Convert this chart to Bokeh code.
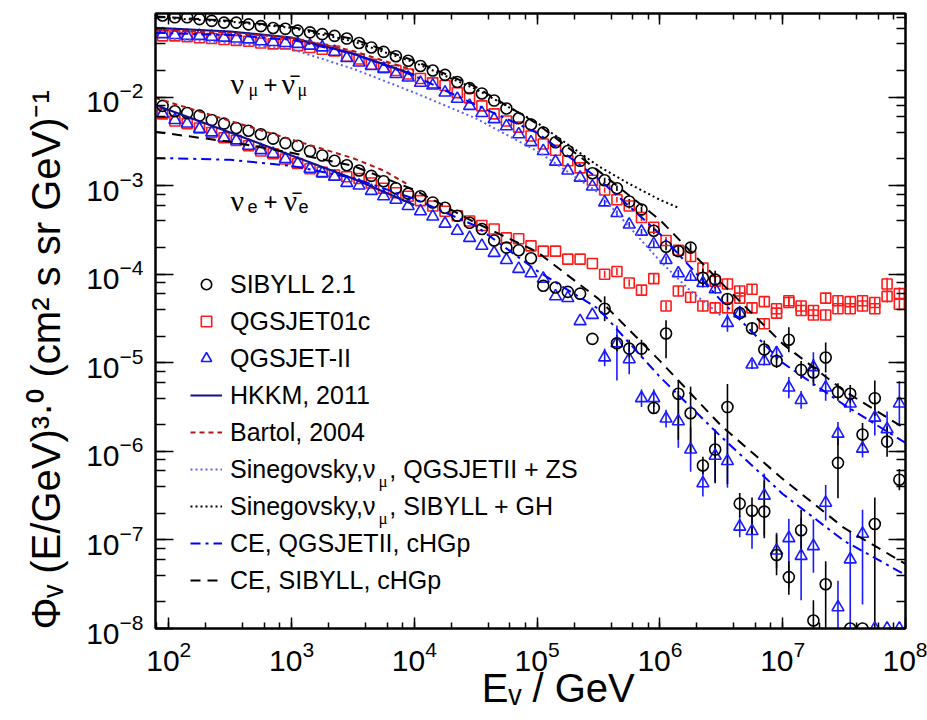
import math
from bokeh.plotting import figure
from bokeh.models import (LogAxis, LogTicker, Legend, LegendItem, Label, CustomJSTickFormatter)
from bokeh.embed import file_html
from bokeh.resources import INLINE

nan = float("nan")

# ---------------- data (log10 values) ----------------
# energy bin centres, log10(E / GeV)
log_e = [1.95, 2.05, 2.15, 2.25, 2.35, 2.45, 2.55, 2.65, 2.75, 2.85,
         2.95, 3.05, 3.15, 3.25, 3.35, 3.45, 3.55, 3.65, 3.75, 3.85,
         3.95, 4.05, 4.15, 4.25, 4.35, 4.45, 4.55, 4.65, 4.75, 4.85,
         4.95, 5.05, 5.15, 5.25, 5.35, 5.45, 5.55, 5.65, 5.75, 5.85,
         5.95, 6.05, 6.15, 6.25, 6.35, 6.45, 6.55, 6.65, 6.75, 6.85,
         6.95, 7.05, 7.15, 7.25, 7.35, 7.45, 7.55, 7.65, 7.75, 7.85, 7.95]

# log10 flux, nu_mu + nu_mu-bar
sibyll_mu = [-1.08, -1.10, -1.10, -1.12, -1.14, -1.16, -1.16, -1.18, -1.20, -1.22,
             -1.23, -1.25, -1.27, -1.29, -1.31, -1.34, -1.39, -1.44, -1.49, -1.54,
             -1.59, -1.65, -1.70, -1.75, -1.83, -1.90, -1.96, -2.04, -2.13, -2.24,
             -2.31, -2.40, -2.51, -2.61, -2.72, -2.86, -2.94, -3.03, -3.18, -3.27,
             -3.51, -3.69, -3.74, -3.70, -4.04, -4.06, -4.28, -4.44, -4.61, -4.85,
             -4.98, -4.74, -5.08, -5.11, -4.94, -5.33, -5.35, -5.81, -5.40, -5.89, -6.32]
qgs01_mu = [-1.31, -1.31, -1.32, -1.33, -1.34, -1.35, -1.36, -1.37, -1.39, -1.40,
            -1.40, -1.42, -1.44, -1.46, -1.48, -1.54, -1.57, -1.63, -1.67, -1.70,
            -1.74, -1.79, -1.84, -1.87, -1.95, -2.01, -2.10, -2.19, -2.27, -2.34,
            -2.44, -2.53, -2.60, -2.72, -2.80, -2.94, -3.05, -3.16, -3.23, -3.36,
            -3.47, -3.62, -3.73, -3.80, -3.93, -4.08, -4.11, -4.19, -4.17, -4.31,
            -4.39, -4.32, -4.41, -4.41, -4.27, -4.39, -4.31, -4.30, -4.39, -4.11, -4.22]
qgs2_mu = [-1.29, -1.30, -1.31, -1.31, -1.32, -1.33, -1.34, -1.35, -1.37, -1.38,
           -1.39, -1.40, -1.42, -1.44, -1.49, -1.56, -1.61, -1.65, -1.68, -1.74,
           -1.78, -1.84, -1.87, -1.95, -2.02, -2.10, -2.18, -2.25, -2.33, -2.42,
           -2.51, -2.61, -2.73, -2.83, -2.91, -3.01, -3.19, -3.31, -3.44, -3.52,
           -3.66, -3.84, -3.99, -4.03, -4.10, -4.17, -4.55, -4.44, -5.02, -4.98,
           -4.89, -5.28, -5.42, -5.05, -5.28, -5.80, -5.46, -5.97, -5.62, -5.75, -5.46]

# log10 flux, nu_e + nu_e-bar
sibyll_e = [-2.10, -2.16, -2.18, -2.21, -2.26, -2.30, -2.35, -2.38, -2.42, -2.47,
            -2.52, -2.55, -2.61, -2.66, -2.72, -2.77, -2.83, -2.89, -2.95, -3.03,
            -3.09, -3.12, -3.19, -3.25, -3.34, -3.42, -3.49, -3.62, -3.70, -3.73,
            -3.82, -4.13, -4.15, -4.20, -4.22, -4.73, -4.39, -4.78, -4.84, -4.84,
            -5.51, -4.67, -5.35, -5.57, -6.16, -5.98, -5.50, -6.59, -6.67, -6.68,
            -7.17, -7.42, -6.89, -7.91, -7.50, -6.13, -8.00, -8.00, -6.82, nan, nan]
qgs01_e = [-2.19, -2.27, -2.30, -2.35, -2.40, -2.46, -2.49, -2.55, -2.61, -2.64,
           -2.70, -2.75, -2.81, -2.85, -2.88, -2.90, -2.92, -2.97, -3.03, -3.08,
           -3.12, -3.17, -3.23, -3.29, -3.34, -3.40, -3.45, -3.49, -3.59, -3.60,
           -3.68, -3.74, -3.74, -3.83, -3.83, -3.88, -4.00, -3.97, -4.10, -4.18,
           -4.05, -4.36, -4.19, -4.26, -4.36, -4.38, -4.38, -4.27, -4.38, -4.56,
           -4.44, -4.30, -4.36, -4.46, -4.46, -4.30, -4.39, -4.36, -4.32, -4.25, -4.34]
qgs2_e = [-2.19, -2.26, -2.30, -2.36, -2.40, -2.46, -2.49, -2.55, -2.60, -2.64,
          -2.70, -2.75, -2.81, -2.86, -2.90, -2.97, -3.00, -3.06, -3.12, -3.16,
          -3.23, -3.29, -3.35, -3.43, -3.51, -3.59, -3.68, -3.76, -3.84, -3.94,
          -3.99, -4.05, -4.25, -4.27, -4.53, -4.46, -4.94, -4.78, -4.96, -5.40,
          -5.40, -5.63, -5.66, -5.98, -6.36, -6.05, -6.11, -6.85, -6.90, -6.50,
          -7.12, -6.98, -7.18, -7.07, -6.58, -7.76, -7.22, -6.93, -8.00, -8.00, -8.00]

# error bars (decades) for the last 25 bins (index 36 .. 60)
tail = 36
sibyll_mu_err = [0.03, 0.03, 0.03, 0.03, 0.04, 0.04, 0.05, 0.05, 0.10, 0.10, 0.06, 0.07, 0.07,
                 0.10, 0.08, 0.14, 0.10, 0.15, 0.17, 0.10, 0.10, 0.13, 0.20, 0.17, 0.12]
qgs01_mu_err = [0.03, 0.03, 0.03, 0.04, 0.04, 0.04, 0.05, 0.05, 0.05, 0.05, 0.06, 0.06, 0.06,
                0.06, 0.06, 0.06, 0.06, 0.06, 0.06, 0.06, 0.06, 0.06, 0.06, 0.07, 0.07]
qgs2_mu_err = [0.03, 0.03, 0.03, 0.03, 0.04, 0.04, 0.04, 0.04, 0.05, 0.05, 0.10, 0.06, 0.05,
               0.05, 0.08, 0.12, 0.10, 0.17, 0.15, 0.13, 0.10, 0.10, 0.20, 0.20, 0.25]
sibyll_e_up = [0.14, 0.09, 0.10, 0.10, 0.06, 0.15, 0.15, 0.30, 0.10, 0.20, 0.26, 0.12, 0.15,
               0.35, 0.23, 0.18, 0.23, 0.23, 0.26, 0.28, 0.0, 0.0, 0.30, 0.0, 0.0]
sibyll_e_dn = [0.14, 0.09, 0.10, 0.10, 0.06, 0.28, 0.52, 0.45, 0.10, 0.38, 0.87, 0.15, 0.27,
               0.30, 0.23, 0.20, 0.25, 0.10, 0.60, 0.40, 0.0, 0.0, 1.20, 0.0, 0.0]
qgs01_e_err = [0.04, 0.04, 0.04, 0.05, 0.05, 0.05, 0.06, 0.06, 0.06, 0.06, 0.06, 0.06, 0.06,
               0.06, 0.06, 0.06, 0.06, 0.06, 0.06, 0.06, 0.06, 0.06, 0.06, 0.07, 0.07]
qgs2_e_up = [0.10, 0.20, 0.17, 0.10, 0.10, 0.10, 0.34, 0.25, 0.15, 0.30, 0.30, 0.12, 0.20,
             0.25, 0.20, 0.22, 0.43, 0.30, 0.20, 0.30, 0.32, 0.27, 0.0, 0.0, 0.0]
qgs2_e_dn = [0.10, 0.42, 0.17, 0.10, 0.10, 0.10, 0.30, 0.25, 0.15, 0.30, 0.30, 0.12, 0.20,
             0.45, 0.20, 0.56, 0.50, 0.30, 0.20, 0.25, 0.77, 0.80, 0.0, 0.0, 0.0]

# model curves: (log10 E, log10 flux)
hkkm_mu_x = [1.89, 2.5, 3.0, 3.5, 4.0]
hkkm_mu_y = [-1.22, -1.26, -1.33, -1.51, -1.75]
hkkm_e_x = [1.89, 2.5, 3.0, 3.5, 4.0]
hkkm_e_y = [-2.09, -2.40, -2.66, -2.92, -3.22]
bartol_mu_x = [1.89, 2.5, 3.0, 3.5, 4.0]
bartol_mu_y = [-1.24, -1.275, -1.33, -1.48, -1.70]
bartol_e_x = [1.89, 2.5, 3.0, 3.5, 3.75, 3.95]
bartol_e_y = [-2.01, -2.27, -2.48, -2.69, -2.83, -2.99]
sine_qgs_mu_x = [2.0, 2.5, 3.0, 3.5, 4.0, 4.5, 5.0, 5.5, 6.0, 6.25, 6.5]
sine_qgs_mu_y = [-1.34, -1.39, -1.46, -1.68, -1.95, -2.24, -2.61, -3.08, -3.85, -4.19, -4.47]
sine_sib_mu_x = [2.0, 2.5, 3.0, 3.5, 4.0, 4.5, 5.0, 5.5, 5.75, 6.0, 6.15]
sine_sib_mu_y = [-1.11, -1.15, -1.22, -1.37, -1.61, -1.91, -2.29, -2.78, -2.98, -3.16, -3.25]
ce_grid = [1.89, 2.5, 3.0, 3.5, 4.0, 4.5, 5.0, 5.5, 6.0, 6.5, 7.0, 7.5, 8.0]
ce_qgs_mu = [-1.275, -1.30, -1.354, -1.512, -1.761, -2.088, -2.404, -2.924, -3.545, -4.301,
             -5.001, -5.475, -5.905]
ce_qgs_e = [-2.687, -2.709, -2.777, -2.913, -3.150, -3.455, -3.963, -4.392, -5.16, -5.837,
            -6.481, -7.011, -7.395]
ce_sib_mu = [-1.09, -1.14, -1.208, -1.343, -1.591, -1.885, -2.303, -2.834, -3.387, -4.098,
             -4.787, -5.317, -5.747]
ce_sib_e = [-2.393, -2.506, -2.630, -2.777, -3.048, -3.421, -3.748, -4.279, -4.979, -5.713,
            -6.311, -6.865, -7.271]

legend_labels = ["SIBYLL 2.1", "QGSJET01c", "QGSJET-II", "HKKM, 2011", "Bartol, 2004",
                 "Sinegovsky,\u03bd  , QGSJETII + ZS", "Sinegovsky,\u03bd  , SIBYLL + GH",
                 "CE, QGSJETII, cHGp", "CE, SIBYLL, cHGp"]

NB = "\u00a0"
y_title = "\u03a6\u1d65 (E/GeV)\u00b3\u00b7\u2070 (cm\u00b2 s sr GeV)\u207b\u00b9" + NB * 7
x_title = NB * 5 + "E\u1d65 / GeV"

# ---------------- figure ----------------
X0, X1 = 78.0, 1.0e8
Y0, Y1 = 1.0e-8, 0.0877
FL, FT, FW, FH = 155, 13, 750, 615
LX0, LX1, LY0, LY1 = math.log10(X0), math.log10(X1), math.log10(Y0), math.log10(Y1)


def dx(px):
    return 10 ** (LX0 + (px - FL) / FW * (LX1 - LX0))


def dy(py):
    return 10 ** (LY1 - (py - FT) / FH * (LY1 - LY0))


p = figure(width=927, height=720, x_axis_type="log", y_axis_type="log",
           x_range=(X0, X1), y_range=(Y0, Y1), output_backend="svg",
           toolbar_location=None, min_border_left=FL, min_border_right=927 - FL - FW,
           min_border_top=FT, min_border_bottom=720 - FT - FH)
p.background_fill_color = "white"
p.border_fill_color = "white"
p.xgrid.visible = False
p.ygrid.visible = False
p.outline_line_color = "black"
p.outline_line_width = 2

for ax, tin, tmin in ((p.xaxis[0], 11, 6), (p.yaxis[0], 18, 10)):
    ax.ticker = LogTicker(mantissas=[1], desired_num_ticks=10)
    ax.major_tick_in = tin
    ax.major_tick_out = 0
    ax.minor_tick_in = tmin
    ax.minor_tick_out = 0
    ax.axis_line_width = 2
    ax.major_tick_line_width = 1.5
    ax.minor_tick_line_width = 1.5
    ax.major_label_text_font = "Liberation Sans"
    ax.major_label_text_font_size = "30px"
    ax.major_label_text_color = "black"
    ax.axis_label_text_font = "Liberation Sans"
    ax.axis_label_text_font_size = "40px"
    ax.axis_label_text_font_style = "normal"
    ax.axis_label_text_color = "black"
p.xaxis[0].major_label_standoff = 12
p.yaxis[0].major_label_standoff = 12
p.yaxis[0].axis_label = y_title
p.yaxis[0].axis_label_standoff = 15
p.xaxis[0].axis_label = x_title
p.xaxis[0].axis_label_standoff = -8

for loc, tin, tmin in (("above", 11, 6), ("right", 17, 9)):
    ax = LogAxis(ticker=LogTicker(mantissas=[1], desired_num_ticks=10),
                 formatter=CustomJSTickFormatter(code="return ''"),
                 major_tick_in=tin, major_tick_out=0, minor_tick_in=tmin, minor_tick_out=0,
                 axis_line_width=2, major_tick_line_width=1.5, minor_tick_line_width=1.5,
                 major_label_text_font_size="2px", major_label_standoff=0)
    p.add_layout(ax, loc)

E = [10 ** v for v in log_e]


def flux(vals):
    return [10 ** v if v == v else nan for v in vals]


def errbars(vals, up, dn, color):
    xs, y0s, y1s = [], [], []
    for i in range(len(up)):
        v = vals[tail + i]
        if v != v or (up[i] == 0 and dn[i] == 0):
            continue
        xs.append(E[tail + i])
        y0s.append(10 ** (v - dn[i]))
        y1s.append(10 ** (v + up[i]))
    p.segment(x0=xs, x1=xs, y0=y0s, y1=y1s, line_color=color, line_width=1.6)


RED, BLUE = "#ff1a1a", "#1a1aff"
errbars(qgs01_mu, qgs01_mu_err, qgs01_mu_err, RED)
errbars(qgs01_e, qgs01_e_err, qgs01_e_err, RED)
errbars(qgs2_mu, qgs2_mu_err, qgs2_mu_err, BLUE)
errbars(qgs2_e, qgs2_e_up, qgs2_e_dn, BLUE)
errbars(sibyll_mu, sibyll_mu_err, sibyll_mu_err, "black")
errbars(sibyll_e, sibyll_e_up, sibyll_e_dn, "black")

r_q01 = p.scatter(E, flux(qgs01_mu), marker="square", size=10, fill_color=None,
                  line_color=RED, line_width=1.6)
p.scatter(E, flux(qgs01_e), marker="square", size=10, fill_color=None,
          line_color=RED, line_width=1.6)
r_q2 = p.scatter(E, flux(qgs2_mu), marker="triangle", size=12, fill_color=None,
                 line_color=BLUE, line_width=1.6)
p.scatter(E, flux(qgs2_e), marker="triangle", size=12, fill_color=None,
          line_color=BLUE, line_width=1.6)
r_sib = p.scatter(E, flux(sibyll_mu), marker="circle", size=11, fill_color=None,
                  line_color="black", line_width=1.6)
p.scatter(E, flux(sibyll_e), marker="circle", size=11, fill_color=None,
          line_color="black", line_width=1.6)


def curve(xs, ys, **kw):
    return p.line([10 ** v for v in xs], [10 ** v for v in ys], **kw)


NAVY, DRED, LBLUE = "#101090", "#b01818", "#5f5fff"
r_hkkm = curve(hkkm_mu_x, hkkm_mu_y, line_color=NAVY, line_width=2.2)
curve(hkkm_e_x, hkkm_e_y, line_color=NAVY, line_width=2.2)
r_bar = curve(bartol_mu_x, bartol_mu_y, line_color=DRED, line_width=2, line_dash="5 4")
curve(bartol_e_x, bartol_e_y, line_color=DRED, line_width=2, line_dash="5 4")
r_sq = curve(sine_qgs_mu_x, sine_qgs_mu_y, line_color=LBLUE, line_width=2, line_dash="2 3")
r_ss = curve(sine_sib_mu_x, sine_sib_mu_y, line_color="black", line_width=2, line_dash="2 3")
r_ceq = curve(ce_grid, ce_qgs_mu, line_color="#0000ff", line_width=2, line_dash="10 5 3 5")
curve(ce_grid, ce_qgs_e, line_color="#0000ff", line_width=2, line_dash="10 5 3 5")
r_ces = curve(ce_grid, ce_sib_mu, line_color="black", line_width=2, line_dash="10 7")
curve(ce_grid, ce_sib_e, line_color="black", line_width=2, line_dash="10 7")

renderers = [r_sib, r_q01, r_q2, r_hkkm, r_bar, r_sq, r_ss, r_ceq, r_ces]
legend = Legend(items=[LegendItem(label=l, renderers=[r]) for l, r in zip(legend_labels, renderers)],
                location=(35, 31), padding=0, spacing=3, label_height=34, glyph_height=26,
                glyph_width=32, label_standoff=8, label_text_font="Liberation Sans",
                label_text_font_size="25px", label_text_color="black",
                border_line_alpha=0, background_fill_alpha=0)
p.add_layout(legend)

SANS, SERIF = "Liberation Sans", "Liberation Serif"


def txt(px, py, text, size, font=SANS):
    p.add_layout(Label(x=dx(px), y=dy(py), text=text, text_font=font,
                       text_font_size=f"{size}px", text_align="left",
                       text_baseline="alphabetic", text_color="black"))


# subscripts of the two Sinegovsky legend entries
txt(378, 481, "\u03bc", 17, SERIF)
txt(378, 518, "\u03bc", 17, SERIF)

# flavour labels
txt(230, 83, "\u03bd", 30, SERIF)
txt(248, 89, "\u03bc", 18, SERIF)
txt(263, 84, "+", 24)
txt(281, 83, "\u03bd\u0304", 30, SERIF)
txt(297, 89, "\u03bc", 18, SERIF)
txt(230, 200, "\u03bd", 30, SERIF)
txt(247, 206, "e", 18)
txt(263, 201, "+", 24)
txt(283, 200, "\u03bd\u0304", 30, SERIF)
txt(298, 206, "e", 18)

open("out.html", "w").write(file_html(p, INLINE))
